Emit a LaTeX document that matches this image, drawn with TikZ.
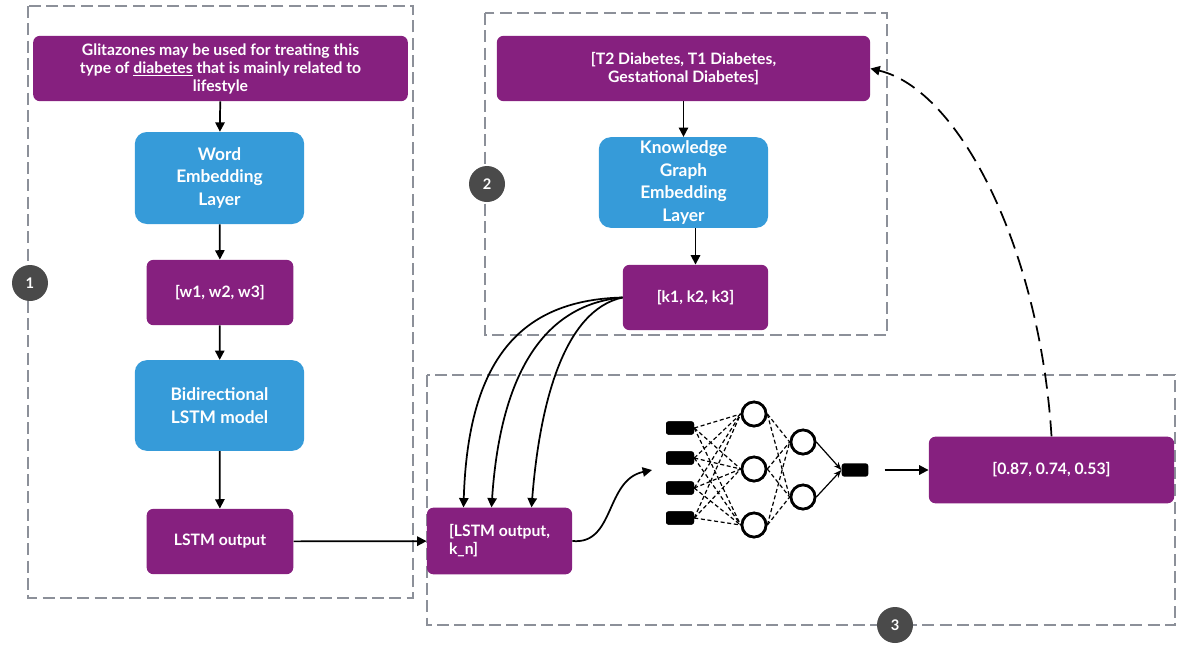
\documentclass[tikz,border=0pt]{standalone}
\usepackage{fontspec}
\setmainfont{Lato}
\usetikzlibrary{arrows.meta,positioning}
\definecolor{pbox}{HTML}{86207F}
\definecolor{bbox}{HTML}{369BD9}
\definecolor{frame}{HTML}{8C9099}
\definecolor{badge}{HTML}{4A4A4A}
\tikzset{
      purplebox/.style = {fill=pbox, rounded corners=5pt, text=white, font=\bfseries\fontsize{11.8}{13.5}\selectfont, align=center, inner sep=0pt},
      bluebox/.style = {fill=bbox, rounded corners=9pt, text=white, font=\bfseries\fontsize{13}{17}\selectfont, align=center, inner sep=0pt},
      flow/.style = {black, line width=1.3pt, -{Triangle[length=7pt,width=7pt]}},
      fb/.style = {black, line width=1.3pt, dash pattern=on 12pt off 6pt, -{Triangle[length=7pt,width=7pt]}},
      group/.style = {frame, line width=1.5pt, dash pattern=on 9pt off 4pt},
      num/.style = {circle, fill=badge, text=white, minimum size=27pt, inner sep=0pt, font=\bfseries\fontsize{11}{11}\selectfont},
      unit/.style = {fill=black, rounded corners=2pt, minimum width=21pt, minimum height=10pt, inner sep=0pt},
      neuron/.style = {circle, draw=black, line width=2pt, fill=white, minimum size=18pt, inner sep=0pt},
      wire/.style = {black, densely dashed, line width=0.9pt},
    }
\begin{document}
\begin{tikzpicture}[x=0.75pt,y=-0.75pt]
        \useasboundingbox (0,0) rectangle (1182,651);
        % groups
        \draw[group] (28,6) rectangle (413,598);
        \draw[group] (485,13) rectangle (887,335);
        \draw[group] (427,375) rectangle (1175,625);
        \node[num] (n1) at (30,283) {1};
        \node[num] (n2) at (487,184) {2};
        \node[num] (n3) at (895,625) {3};

        % left branch
        \node[purplebox, minimum width=281pt, minimum height=49pt] (query) at (220.5,68.5)
          {Glitazones may be used for treating this\\type of \underline{diabetes} that is mainly related to\\lifestyle};
        \node[bluebox, minimum width=127pt, minimum height=69pt] (wordemb) at (219.5,178) {Word\\Embedding\\Layer};
        \node[purplebox, minimum width=110pt, minimum height=49pt] (words) at (220,292.5) {[w1, w2, w3]};
        \node[bluebox, minimum width=127pt, minimum height=68pt] (bilstm) at (219.5,405.5) {Bidirectional\\LSTM model};
        \node[purplebox, minimum width=110pt, minimum height=49pt] (lstmout) at (220,541.5) {LSTM output};

        % right branch
        \node[purplebox, minimum width=280pt, minimum height=49pt] (classes) at (683.5,68.5)
          {[T2 Diabetes, T1 Diabetes,\\Gestational Diabetes]};
        \node[bluebox, minimum width=127pt, minimum height=68pt] (kgemb) at (683.5,182.5) {Knowledge\\Graph\\Embedding\\Layer};
        \node[purplebox, minimum width=109pt, minimum height=49pt] (kvec) at (695.5,297.5) {[k1, k2, k3]};

        % bottom
        \node[purplebox, minimum width=109pt, minimum height=50pt, align=left] (concat) at (499.5,541) {[LSTM output,\\k\_n]};
        \node[purplebox, minimum width=184pt, minimum height=50pt] (scores) at (1051.5,470) {[0.87, 0.74, 0.53]};

        % network
        \foreach \i/\y in {1/428,2/458,3/488,4/518} \node[unit] (in\i) at (680,\y) {};
        \foreach \i/\y in {1/414,2/469,3/525} \node[neuron] (ha\i) at (754,\y) {};
        \foreach \i/\y in {1/442,2/497} \node[neuron] (hb\i) at (803,\y) {};
        \node[unit, minimum width=20pt] (out) at (855,470) {};
        \foreach \i in {1,...,4} \foreach \j in {1,2,3} \draw[wire] (in\i.east) -- (ha\j.west);
        \foreach \i in {1,2,3} \foreach \j in {1,2} \draw[wire] (ha\i.east) -- (hb\j.west);
        \foreach \i in {1,...,4} \node[unit] at (in\i) {};
        \foreach \i/\y in {1/414,2/469,3/525} \node[neuron] at (754,\y) {};
        \foreach \i/\y in {1/442,2/497} \node[neuron] at (803,\y) {};
        \foreach \j in {1,2} \draw[black, line width=0.9pt, -{Stealth[length=6pt]}] (hb\j.east) -- (out.west);
        \coordinate (netin) at (652,470);

        % connectors
        \draw[flow] (query) -- (wordemb);
        \draw[flow] (wordemb) -- (words);
        \draw[flow] (words) -- (bilstm);
        \draw[flow] (bilstm) -- (lstmout);
        \draw[flow] (lstmout) -- (concat);
        \draw[flow] (classes) -- (kgemb);
        \draw[flow] (kgemb.south -| kvec.north) -- (kvec);
        \draw[flow] (kvec.west) .. controls (520,300) and (468,360) .. ([xshift=-27pt]concat.north);
        \draw[flow] (kvec.west) .. controls (540,305) and (500,380) .. ([xshift=-6pt]concat.north);
        \draw[flow] (kvec.west) .. controls (565,310) and (540,400) .. ([xshift=24pt]concat.north);
        \draw[flow] (concat.east) .. controls (615,545) and (605,480) .. (netin);
        \draw[flow] (out.east) ++(12pt,0) -- (scores.west);
        \draw[fb] (scores.north) .. controls (1040,250) and (960,90) .. (classes.east);
\end{tikzpicture}
\end{document}
